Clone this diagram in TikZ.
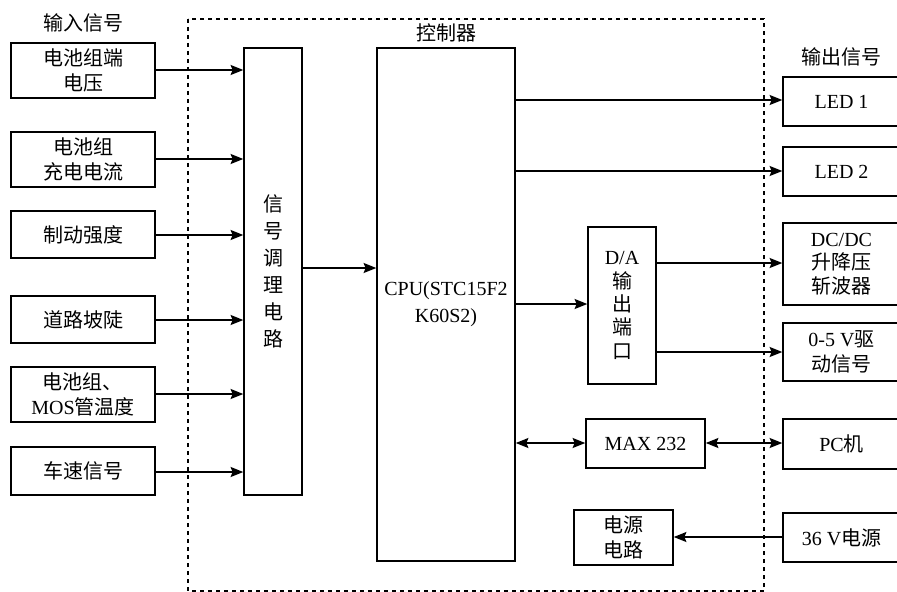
\documentclass[tikz,border=0pt]{standalone}
\usepackage{fontspec}
\setmainfont{Liberation Serif}
\newfontfamily\cjk{Noto Sans CJK SC}
\usetikzlibrary{arrows.meta}
\begin{document}
\begin{tikzpicture}[x=0.75pt,y=-0.75pt,
  every node/.style={font=\fontsize{15}{19}\selectfont},
  box/.style={draw,line width=1.1pt,rectangle,inner sep=0pt,align=center},
  inbox/.style={box,minimum width=108pt},
  outbox/.style={box,minimum width=87.75pt},
  lbl/.style={inner sep=0pt},
  arr/.style={line width=1pt,-{Stealth[length=9.5pt,width=7.5pt,inset=1.5pt]}},
  darr/.style={line width=1pt,{Stealth[length=9.5pt,width=7.5pt,inset=1.5pt]}-{Stealth[length=9.5pt,width=7.5pt,inset=1.5pt]}},
  dotbox/.style={line width=1.4pt,dash pattern=on 3pt off 3pt}]
\useasboundingbox (0,0) rectangle (897,592);
% controller frame
\draw[dotbox] (188,19) rectangle (764,591);
% labels
\node[lbl] (tin) at (83,23) {\cjk 输入信号};
\node[lbl] (tctl) at (446,33) {\cjk 控制器};
\node[lbl] (tout) at (841,57) {\cjk 输出信号};
% inputs
\node[inbox,minimum height=41.25pt] (in1) at (83,70.5) {{\cjk 电池组端}\\{\cjk 电压}};
\node[inbox,minimum height=41.25pt] (in2) at (83,159.5) {{\cjk 电池组}\\{\cjk 充电电流}};
\node[inbox,minimum height=35.25pt] (in3) at (83,234.5) {\cjk 制动强度};
\node[inbox,minimum height=35.25pt] (in4) at (83,319.5) {\cjk 道路坡陡};
\node[inbox,minimum height=41.25pt] (in5) at (83,394.5) {{\cjk 电池组、}\\MOS{\cjk 管温度}};
\node[inbox,minimum height=36pt] (in6) at (83,471) {\cjk 车速信号};
% signal conditioning
\node[box,minimum width=43.5pt,minimum height=335.25pt,font=\fontsize{15}{20.25}\selectfont] (sig) at (273,271.5) {{\cjk 信}\\{\cjk 号}\\{\cjk 调}\\{\cjk 理}\\{\cjk 电}\\{\cjk 路}};
% CPU
\node[box,minimum width=103.5pt,minimum height=384.75pt,font=\fontsize{15}{20}\selectfont] (cpu) at (446,304.5) {CPU(STC15F2\\K60S2)};
% D/A
\node[box,minimum width=51pt,minimum height=117.75pt,font=\fontsize{15}{17.5}\selectfont] (da) at (622,305.5) {D/A\\{\cjk 输}\\{\cjk 出}\\{\cjk 端}\\{\cjk 口}};
% MAX232
\node[box,minimum width=89.25pt,minimum height=36.75pt] (max) at (645.5,443.5) {MAX 232};
% power circuit
\node[box,minimum width=74.25pt,minimum height=41.25pt] (pwr) at (623.5,537.5) {{\cjk 电源}\\{\cjk 电路}};
% outputs
\node[outbox,minimum height=36.75pt] (led1) at (841.5,101.5) {LED 1};
\node[outbox,minimum height=36.75pt] (led2) at (841.5,171.5) {LED 2};
\node[outbox,minimum height=61.5pt,font=\fontsize{15}{17.5}\selectfont] (dcdc) at (841.5,264) {DC/DC\\{\cjk 升降压}\\{\cjk 斩波器}};
\node[outbox,minimum height=43.5pt] (drv) at (841.5,352) {0-5 V{\cjk 驱}\\{\cjk 动信号}};
\node[outbox,minimum height=37.5pt] (pc) at (841.5,444) {PC{\cjk 机}};
\node[outbox,minimum height=36.75pt] (v36) at (841.5,537.5) {36 V{\cjk 电源}};
% input arrows
\foreach \n/\y in {in1/70,in2/159,in3/235,in4/320,in5/394,in6/472}
  \draw[arr] (\n.east |- 0,\y) -- (sig.west |- 0,\y);
\draw[arr] (sig.east |- 0,268) -- (cpu.west |- 0,268);
\draw[arr] (cpu.east |- 0,100) -- (led1.west |- 0,100);
\draw[arr] (cpu.east |- 0,171) -- (led2.west |- 0,171);
\draw[arr] (cpu.east |- 0,304) -- (da.west |- 0,304);
\draw[arr] (da.east |- 0,263) -- (dcdc.west |- 0,263);
\draw[arr] (da.east |- 0,352) -- (drv.west |- 0,352);
\draw[darr] (cpu.east |- 0,443) -- (max.west |- 0,443);
\draw[darr] (max.east |- 0,443) -- (pc.west |- 0,443);
\draw[arr] (v36.west |- 0,537) -- (pwr.east |- 0,537);
\end{tikzpicture}
\end{document}
